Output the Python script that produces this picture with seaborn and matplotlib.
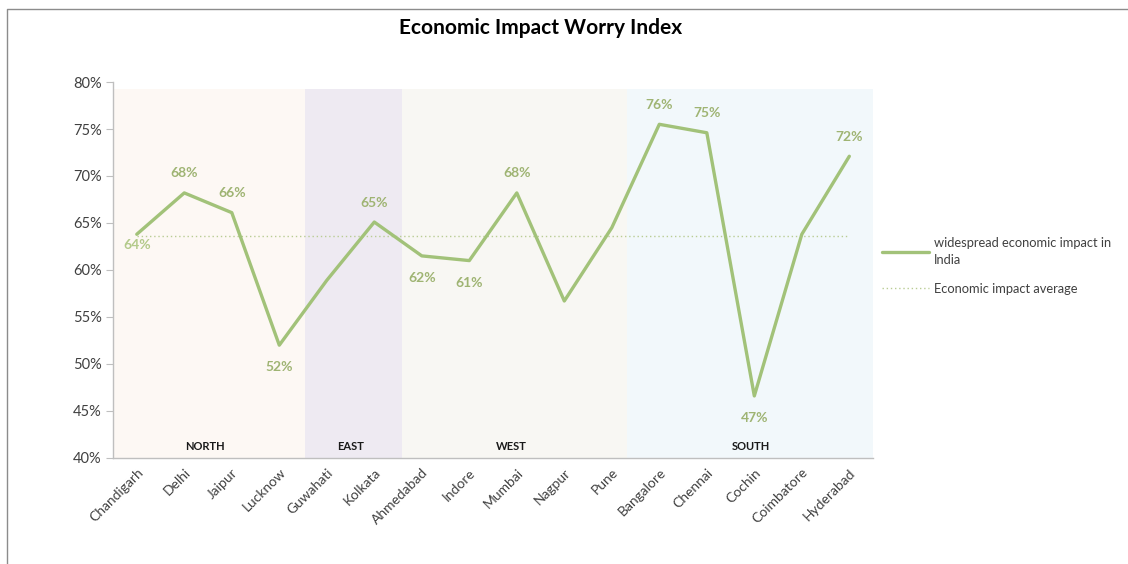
import numpy as np
import pandas as pd
import matplotlib
matplotlib.use("Agg")
import matplotlib.pyplot as plt
from matplotlib.lines import Line2D
import seaborn as sns

cities = ["Chandigarh", "Delhi", "Jaipur", "Lucknow", "Guwahati", "Kolkata",
          "Ahmedabad", "Indore", "Mumbai", "Nagpur", "Pune", "Bangalore",
          "Chennai", "Cochin", "Coimbatore", "Hyderabad"]
values = [63.8, 68.2, 66.1, 52.0, 58.9, 65.1, 61.5, 61.0, 68.2, 56.7, 64.5,
          75.5, 74.6, 46.6, 63.8, 72.1]
label_pos = ["below", "above", "above", "below", None, "above", "below", "below",
             "above", None, None, "above", "above", "below", None, "above"]
regions = ["NORTH", "EAST", "WEST", "SOUTH"]
region_bounds = [(-0.5, 3.55), (3.55, 5.58), (5.58, 10.33), (10.33, 15.5)]
region_colors = ["#FDF8F4", "#EEEAF2", "#F8F7F3", "#F2F8FB"]
yticks = [40, 45, 50, 55, 60, 65, 70, 75, 80]

series_name = "widespread economic impact in\nIndia"
avg_name = "Economic impact average"

sns.set_style("white")
plt.rcParams["font.family"] = ["Lato", "DejaVu Sans"]

df = pd.DataFrame({"city": cities, "value": values})
avg = float(np.mean(values))

fig = plt.figure(figsize=(11.28, 5.64), dpi=100)
ax = fig.add_axes([0.1002, 0.188, 0.6738, 0.6666])

line_color = "#A2C279"
label_color = "#9FB473"
# label offset tweaks (points) for individual labels
offset_override = {0: -8}

for (x0, x1), c in zip(region_bounds, region_colors):
    ax.axvspan(x0, x1, ymin=0, ymax=(79.3 - 40) / 40, color=c, lw=0, zorder=0)

sns.lineplot(data=df, x="city", y="value", sort=False, ax=ax, color=line_color,
             lw=2.4, zorder=3, legend=False)
avg_df = pd.DataFrame({"city": [cities[0], cities[-1]], "value": [avg, avg]})
sns.lineplot(data=avg_df, x="city", y="value", sort=False, ax=ax, color="#B9CC94",
             lw=1.0, linestyle=(0, (1, 2)), zorder=2, legend=False)

for i, (v, p) in enumerate(zip(values, label_pos)):
    if p is None:
        continue
    off = 14 if p == "above" else -16
    off = offset_override.get(i, off)
    col = "#B3CA8A" if i == 0 else label_color
    ax.annotate(f"{round(v):d}%", (i, v), xytext=(0, off), textcoords="offset points",
                ha="center", va="center", fontsize=10, fontweight="bold",
                color=col, zorder=4)

region_centers = [1.44, 4.5, 7.89, 12.92]
for r, xc in zip(regions, region_centers):
    ax.text(xc, 41.2, r, ha="center", va="center", fontsize=8, fontweight="bold",
            color="#1a1a1a", zorder=4)

ax.set_xlim(-0.5, 15.5)
ax.set_ylim(40, 80)
ax.set_yticks(yticks)
ax.set_yticklabels([f"{t}%" for t in yticks], fontsize=10.5, color="#404040")
ax.set_xticks(range(len(cities)))
ax.set_xticklabels(cities, rotation=45, ha="right", rotation_mode="anchor",
                   fontsize=10, color="#404040")
ax.tick_params(axis="x", length=0, pad=6)
ax.set_xticks(np.arange(-0.5, 15.6, 1.0), minor=True)
ax.tick_params(axis="x", which="minor", length=5, color="#BFBFBF", direction="out")
ax.tick_params(axis="y", length=5, color="#BFBFBF", direction="out", left=True, pad=3)
ax.set_xlabel("")
ax.set_ylabel("")
for s in ["top", "right"]:
    ax.spines[s].set_visible(False)
for s in ["left", "bottom"]:
    ax.spines[s].set_color("#BFBFBF")
    ax.spines[s].set_linewidth(1.0)

fig.text(0.479, 0.95, "Economic Impact Worry Index", ha="center", va="center",
         fontsize=15, fontweight="bold", color="#000000")

handles = [Line2D([0], [0], color=line_color, lw=2.4),
           Line2D([0], [0], color="#B9CC94", lw=1.0, linestyle=(0, (1, 2)))]
leg = fig.legend(handles, [series_name, avg_name], loc="upper left",
                 bbox_to_anchor=(0.772, 0.60), frameon=False, fontsize=9.3,
                 handlelength=3.6, handletextpad=0.4, labelspacing=1.3,
                 labelcolor="#404040")
for t in leg.get_texts():
    t.set_linespacing(1.45)

fig.add_artist(Line2D([0.0065, 0.0065, 1.0], [0.0, 0.984, 0.984],
                      transform=fig.transFigure, color="#8C8C8C", lw=1.0))

fig.savefig("out.png", dpi=100)
